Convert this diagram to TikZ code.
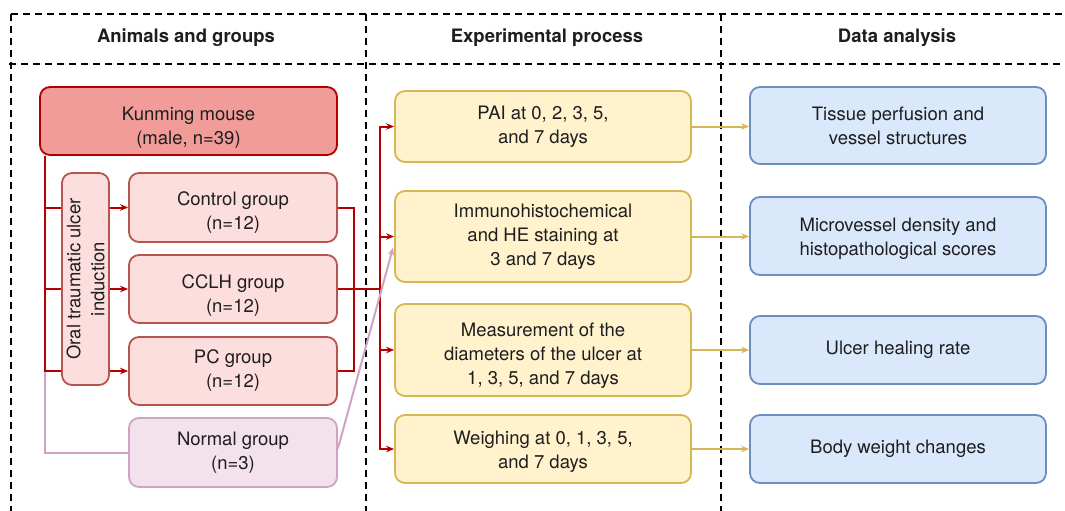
\documentclass[tikz,border=0pt]{standalone}
\usepackage{fontspec}
\setmainfont{TeX Gyre Heros}
\usetikzlibrary{arrows.meta}
\definecolor{kmfill}{HTML}{F19C99}
\definecolor{kmdraw}{HTML}{B20000}
\definecolor{grfill}{HTML}{FDDEDE}
\definecolor{grdraw}{HTML}{B85450}
\definecolor{nofill}{HTML}{F3E1EC}
\definecolor{nodraw}{HTML}{CFA3C4}
\definecolor{yefill}{HTML}{FFF2CC}
\definecolor{yedraw}{HTML}{D6B656}
\definecolor{blfill}{HTML}{DAE8FC}
\definecolor{bldraw}{HTML}{6C8EBF}
\definecolor{txt}{HTML}{1E1E1E}
\newcommand\dnshift[1]{\rule{0pt}{\dimexpr 14pt+#1\relax}}
\tikzset{
  box/.style={rounded corners=10pt, line width=1.8pt, align=center, text=txt,
    font=\fontsize{18.5}{24}\selectfont, inner sep=0pt},
  kmbox/.style={box, fill=kmfill, draw=kmdraw},
  grbox/.style={box, fill=grfill, draw=grdraw},
  nobox/.style={box, fill=nofill, draw=nodraw},
  yebox/.style={box, fill=yefill, draw=yedraw, minimum width=296pt},
  blbox/.style={box, fill=blfill, draw=bldraw, minimum width=296pt},
  redline/.style={draw=kmdraw, line width=2pt},
  purpline/.style={draw=nodraw, line width=2pt},
  yeline/.style={draw=yedraw, line width=2pt},
  tip/.style={-{Stealth[length=8pt,width=6.5pt]}},
  dashline/.style={draw=black, line width=1.5pt, dash pattern=on 7pt off 5pt},
  head/.style={font=\fontsize{18.5}{24}\selectfont\bfseries, text=txt}
}
\begin{document}
\begin{tikzpicture}[x=1pt,y=-1pt]
\useasboundingbox (0,0) rectangle (1065,511);
% frame
\draw[dashline] (11,14) -- (1065,14);
\draw[dashline] (9,64) -- (1065,64);
\draw[dashline] (11,14) -- (11,511);
\draw[dashline] (366,14) -- (366,511);
\draw[dashline] (721,14) -- (721,511);
\node[head] (h1) at (186,38) {Animals and groups};
\node[head] (h2) at (547,38) {Experimental process};
\node[head] (h3) at (897,38) {Data analysis};
% left column
\node[kmbox, minimum width=297pt, minimum height=68pt] (km) at (188.5,121) {\dnshift{12pt}Kunming mouse\\(male, n=39)};
\node[grbox, minimum width=208pt, minimum height=69pt] (ctrl) at (233,207.5) {\dnshift{10pt}Control group\\(n=12)};
\node[grbox, minimum width=208pt, minimum height=68pt] (cclh) at (233,289) {\dnshift{12pt}CCLH group\\(n=12)};
\node[grbox, minimum width=208pt, minimum height=68pt] (pc) at (233,371) {PC group\\(n=12)};
\node[nobox, minimum width=208pt, minimum height=69pt] (norm) at (233,452.5) {Normal group\\(n=3)};
% middle column
\node[yebox, minimum height=71pt] (pai) at (543,126.5) {PAI at 0, 2, 3, 5,\\and 7 days};
\node[yebox, minimum height=91pt] (imm) at (543,236.5) {Immunohistochemical\\and HE staining at\\3 and 7 days};
\node[yebox, minimum height=92pt] (meas) at (543,350) {\dnshift{11pt}Measurement of the\\diameters of the ulcer at\\1, 3, 5, and 7 days};
\node[yebox, minimum height=68pt] (wei) at (543,449) {\dnshift{6pt}Weighing at 0, 1, 3, 5,\\and 7 days};
% right column
\node[blbox, minimum height=77pt] (tis) at (898,125.5) {Tissue perfusion and\\vessel structures};
\node[blbox, minimum height=78pt] (mic) at (898,236) {\dnshift{6pt}Microvessel density and\\histopathological scores};
\node[blbox, minimum height=68pt] (ulc) at (898,350) {Ulcer healing rate};
\node[blbox, minimum height=68pt] (bod) at (898,449) {Body weight changes};
% left connectors
\coordinate (t0) at ([xshift=6pt]km.south west);
\draw[purpline] (t0 |- pc.west) |- (norm.west);
\draw[redline,tip] (t0) |- (ctrl.west);
\draw[redline,tip] (t0) |- (cclh.west);
\draw[redline,tip] (t0) |- (pc.west);
\node[grbox, rotate=90, minimum width=212pt, minimum height=47pt] (ind) at (85.5,279) {Oral traumatic ulcer\\induction};
% right of groups
\draw[redline] (ctrl.east) -- ++(16,0) |- (pc.east);
\draw[redline,tip] (cclh.east) -| ([xshift=-14pt]pai.west) -- (pai.west);
\draw[redline,tip] (cclh.east) -| ([xshift=-14pt]imm.west) -- (imm.west);
\draw[redline,tip] (cclh.east) -| ([xshift=-14pt]meas.west) -- (meas.west);
\draw[redline,tip] (cclh.east) -| ([xshift=-14pt]wei.west) -- (wei.west);
\draw[purpline,tip] ([yshift=4pt]norm.east) -- ([yshift=-11pt,xshift=-1pt]imm.west);
% yellow connectors
\draw[yeline,tip] (pai.east) -- (pai.east -| tis.west);
\draw[yeline,tip] (imm.east) -- (imm.east -| mic.west);
\draw[yeline,tip] (meas.east) -- (meas.east -| ulc.west);
\draw[yeline,tip] (wei.east) -- (wei.east -| bod.west);
\end{tikzpicture}
\end{document}
